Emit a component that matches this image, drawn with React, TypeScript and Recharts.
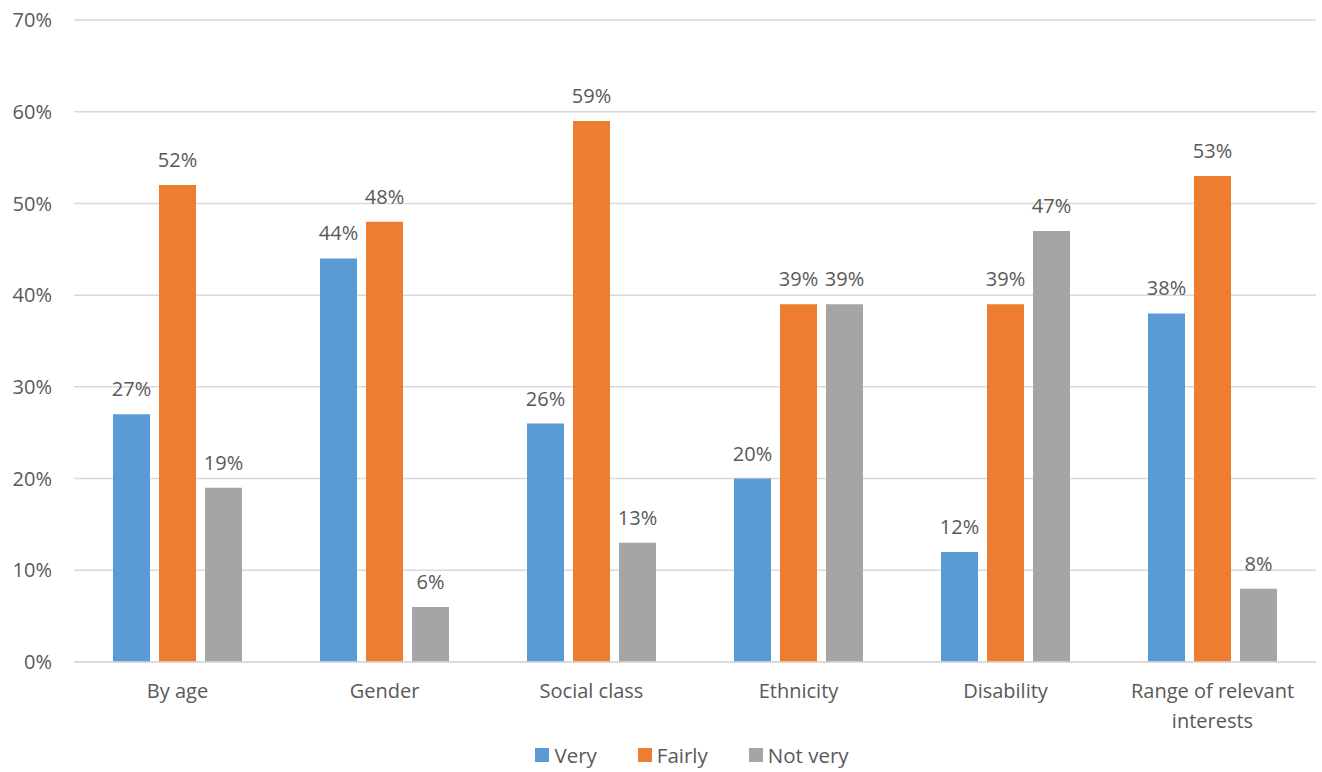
import React from "react";
import {
  BarChart,
  Bar,
  XAxis,
  YAxis,
  CartesianGrid,
  Legend,
  LabelList,
} from "recharts";

const categories = [
  "By age",
  "Gender",
  "Social class",
  "Ethnicity",
  "Disability",
  "Range of relevant interests",
];
const very = [27, 44, 26, 20, 12, 38];
const fairly = [52, 48, 59, 39, 39, 53];
const notVery = [19, 6, 13, 39, 47, 8];
const yTicks = [0, 10, 20, 30, 40, 50, 60, 70];

const series = [
  { key: "very", name: "Very", color: "#5B9BD5" },
  { key: "fairly", name: "Fairly", color: "#ED7D31" },
  { key: "notVery", name: "Not very", color: "#A5A5A5" },
];

const data = categories.map((name, i) => ({
  name,
  very: very[i],
  fairly: fairly[i],
  notVery: notVery[i],
}));

const FONT = "'Open Sans', 'Noto Sans', sans-serif";
const TEXT = "#595959";

const wrap = (s: string, max = 20): string[] => {
  if (s.length <= max) return [s];
  const words = s.split(" ");
  const lines: string[] = [];
  let cur = "";
  words.forEach((w) => {
    if (cur && (cur + " " + w).length > max) {
      lines.push(cur);
      cur = w;
    } else {
      cur = cur ? cur + " " + w : w;
    }
  });
  if (cur) lines.push(cur);
  return lines;
};

const CategoryTick = (props: any) => {
  const { x, y, payload } = props;
  const lines = wrap(payload.value);
  return (
    <text
      x={x}
      y={y}
      textAnchor="middle"
      fill={TEXT}
      fontSize={20}
      fontFamily={FONT}
    >
      {lines.map((l, i) => (
        <tspan key={i} x={x} dy={i === 0 ? 28 : 30}>
          {l}
        </tspan>
      ))}
    </text>
  );
};

const LegendContent = () => (
  <div
    style={{
      display: "flex",
      justifyContent: "center",
      alignItems: "center",
      gap: 41,
      height: 40,
      paddingTop: 6,
      paddingLeft: 68,
      fontFamily: FONT,
      fontSize: 20.5,
      color: TEXT,
      boxSizing: "border-box",
    }}
  >
    {series.map((s) => (
      <span key={s.key} style={{ display: "flex", alignItems: "center" }}>
        <span
          style={{
            width: 14,
            height: 14,
            background: s.color,
            display: "inline-block",
            marginRight: 5,
          }}
        />
        {s.name}
      </span>
    ))}
  </div>
);

export default function App() {
  return (
    <div style={{ position: "absolute", left: 0, top: 0 }}>
      <BarChart
        width={1322}
        height={772}
        data={data}
        margin={{ top: 20, right: 6, bottom: 0, left: 0 }}
        barCategoryGap={39}
        barGap={9}
      >
        <CartesianGrid vertical={false} stroke="#D9D9D9" strokeWidth={1.5} />
        <XAxis
          dataKey="name"
          height={70}
          interval={0}
          tickLine={false}
          axisLine={{ stroke: "#D9D9D9", strokeWidth: 1.5 }}
          tick={<CategoryTick />}
        />
        <YAxis
          width={74}
          domain={[0, 70]}
          ticks={yTicks}
          tickFormatter={(v) => `${v}%`}
          axisLine={false}
          tickLine={false}
          tickSize={0}
          tickMargin={22}
          tick={{ fill: TEXT, fontSize: 20, fontFamily: FONT }}
        />
        <Legend
          verticalAlign="bottom"
          content={<LegendContent />}
          wrapperStyle={{ height: 40 }}
        />
        {series.map((s) => (
          <Bar
            key={s.key}
            dataKey={s.key}
            name={s.name}
            fill={s.color}
            isAnimationActive={false}
          >
            <LabelList
              dataKey={s.key}
              position="top"
              offset={18}
              formatter={(v: any) => `${v}%`}
              fill={TEXT}
              fontSize={20}
              fontFamily={FONT}
            />
          </Bar>
        ))}
      </BarChart>
    </div>
  );
}
